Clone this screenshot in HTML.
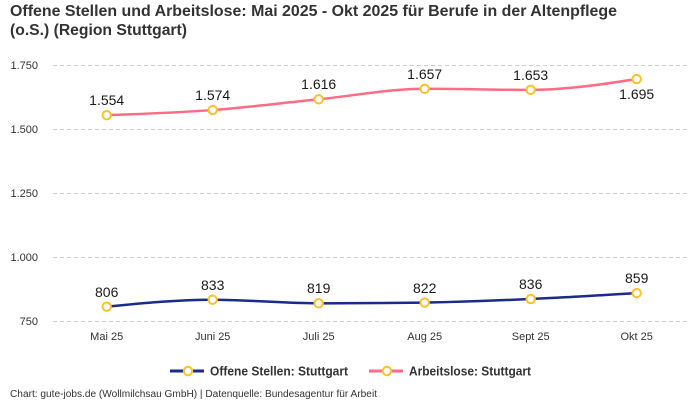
<!DOCTYPE html>
<html>
<head>
<meta charset="utf-8">
<style>
  html, body { margin: 0; padding: 0; background: #ffffff; }
  svg { display: block; font-family: "Liberation Sans", sans-serif; }
</style>
</head>
<body>
<svg width="700" height="400" viewBox="0 0 700 400" xmlns="http://www.w3.org/2000/svg">
  <rect width="700" height="400" fill="#ffffff"/>

  <!-- Title -->
  <text x="10" y="16" font-size="16" font-weight="bold" fill="#333333" textLength="607" lengthAdjust="spacingAndGlyphs">Offene Stellen und Arbeitslose: Mai 2025 - Okt 2025 für Berufe in der Altenpflege</text>
  <text x="10" y="35" font-size="16" font-weight="bold" fill="#333333" textLength="177" lengthAdjust="spacingAndGlyphs">(o.S.) (Region Stuttgart)</text>

  <!-- Gridlines -->
  <g stroke="#cfcfcf" stroke-width="1" stroke-dasharray="4,3">
    <line x1="53" y1="65.5" x2="689" y2="65.5"/>
    <line x1="53" y1="129.5" x2="689" y2="129.5"/>
    <line x1="53" y1="193.5" x2="689" y2="193.5"/>
    <line x1="53" y1="257.5" x2="689" y2="257.5"/>
    <line x1="53" y1="321.5" x2="689" y2="321.5"/>
  </g>

  <!-- Y labels -->
  <g font-size="11" fill="#333333" text-anchor="end">
    <text x="38" y="69">1.750</text>
    <text x="38" y="133">1.500</text>
    <text x="38" y="197">1.250</text>
    <text x="38" y="261">1.000</text>
    <text x="38" y="325">750</text>
  </g>

  <!-- X labels -->
  <g font-size="11" fill="#333333" text-anchor="middle">
    <text x="106.7" y="340">Mai 25</text>
    <text x="212.7" y="340">Juni 25</text>
    <text x="318.7" y="340">Juli 25</text>
    <text x="424.7" y="340">Aug 25</text>
    <text x="530.7" y="340">Sept 25</text>
    <text x="636.7" y="340">Okt 25</text>
  </g>

  <!-- Pink line (Arbeitslose) -->
  <path d="M106.7,115.18 C142.03,113.94 177.37,112.71 212.7,110.06 C248.03,107.41 283.37,102.84 318.7,99.30 C354.03,95.76 389.37,88.81 424.7,88.81 C460.03,88.81 495.37,89.83 530.7,89.83 C566.03,89.83 601.37,84.45 636.7,79.08"
        fill="none" stroke="#ff6b84" stroke-width="2.5" stroke-linecap="round"/>

  <!-- Blue line (Offene Stellen) -->
  <path d="M106.7,306.66 C142.03,303.20 177.37,299.75 212.7,299.75 C248.03,299.75 283.37,303.34 318.7,303.34 C354.03,303.34 389.37,303.08 424.7,302.57 C460.03,302.06 495.37,300.56 530.7,298.98 C566.03,297.40 601.37,295.25 636.7,293.10"
        fill="none" stroke="#1a2b8c" stroke-width="2.5" stroke-linecap="round"/>

  <!-- Markers -->
  <g fill="#ffffff" stroke="#fbc12b" stroke-width="2">
    <circle cx="106.7" cy="115.18" r="4.2"/>
    <circle cx="212.7" cy="110.06" r="4.2"/>
    <circle cx="318.7" cy="99.30" r="4.2"/>
    <circle cx="424.7" cy="88.81" r="4.2"/>
    <circle cx="530.7" cy="89.83" r="4.2"/>
    <circle cx="636.7" cy="79.08" r="4.2"/>

    <circle cx="106.7" cy="306.66" r="4.2"/>
    <circle cx="212.7" cy="299.75" r="4.2"/>
    <circle cx="318.7" cy="303.34" r="4.2"/>
    <circle cx="424.7" cy="302.57" r="4.2"/>
    <circle cx="530.7" cy="298.98" r="4.2"/>
    <circle cx="636.7" cy="293.10" r="4.2"/>
  </g>

  <!-- Data labels -->
  <g font-size="14" fill="#1a1a1a" text-anchor="middle">
    <text x="106.7" y="105">1.554</text>
    <text x="212.7" y="100">1.574</text>
    <text x="318.7" y="89">1.616</text>
    <text x="424.7" y="79">1.657</text>
    <text x="530.7" y="80">1.653</text>
    <text x="636.7" y="99">1.695</text>

    <text x="106.7" y="297">806</text>
    <text x="212.7" y="290">833</text>
    <text x="318.7" y="293">819</text>
    <text x="424.7" y="293">822</text>
    <text x="530.7" y="289">836</text>
    <text x="636.7" y="283">859</text>
  </g>

  <!-- Legend -->
  <line x1="170" y1="371" x2="204" y2="371" stroke="#1a2b8c" stroke-width="3"/>
  <circle cx="188" cy="371" r="4.2" fill="#ffffff" stroke="#fbc12b" stroke-width="2"/>
  <text x="210" y="375.5" font-size="12.5" font-weight="bold" fill="#333333" textLength="138" lengthAdjust="spacingAndGlyphs">Offene Stellen: Stuttgart</text>

  <line x1="369" y1="371" x2="403" y2="371" stroke="#ff6b84" stroke-width="3"/>
  <circle cx="387" cy="371" r="4.2" fill="#ffffff" stroke="#fbc12b" stroke-width="2"/>
  <text x="409" y="375.5" font-size="12.5" font-weight="bold" fill="#333333" textLength="122" lengthAdjust="spacingAndGlyphs">Arbeitslose: Stuttgart</text>

  <!-- Footer -->
  <text x="10" y="397" font-size="10" fill="#333333" textLength="367" lengthAdjust="spacingAndGlyphs">Chart: gute-jobs.de (Wollmilchsau GmbH) | Datenquelle: Bundesagentur für Arbeit</text>
</svg>
</body>
</html>
